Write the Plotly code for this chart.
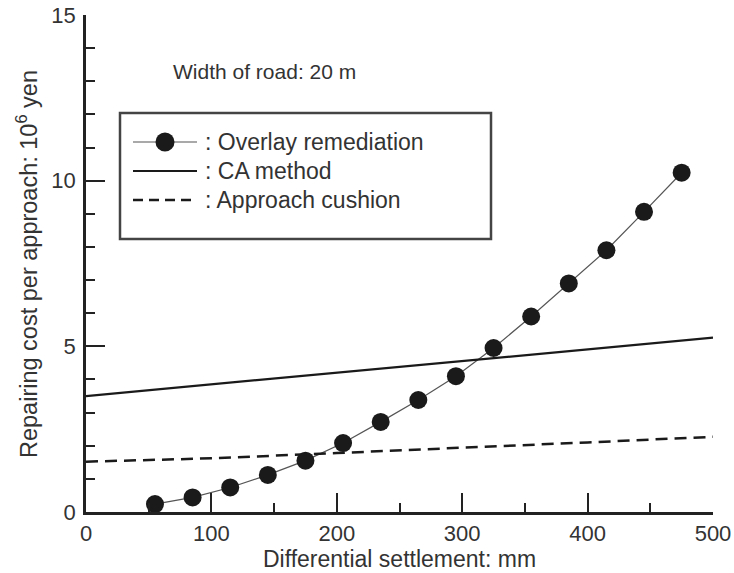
import plotly.graph_objects as go

# Data
overlay_x = [55, 85, 115, 145, 175, 205, 235, 265, 295, 325, 355, 385, 415, 445, 475]
overlay_y = [0.24, 0.44, 0.74, 1.12, 1.55, 2.08, 2.72, 3.38, 4.1, 4.95, 5.9, 6.9, 7.9, 9.06, 10.24]
ca_x = [0, 500]
ca_y = [3.5, 5.26]
cushion_x = [0, 100, 200, 300, 400, 500]
cushion_y = [1.52, 1.62, 1.78, 1.93, 2.1, 2.27]
legend_names = [": Overlay remediation", ": CA method", ": Approach cushion"]

FONT = "Liberation Sans, Arial, sans-serif"
INK = "#222222"
TXT = "#333333"

# figure geometry (pixels)
W, H = 734, 573
ML, MR, MT, MB = 86, 21, 15, 61
PW, PH = W - ML - MR, H - MT - MB


def px(p):
    return (p - ML) / PW


def py(p):
    return (H - MB - p) / PH


fig = go.Figure()
fig.add_trace(go.Scatter(
    x=overlay_x, y=overlay_y, mode="lines+markers", name=legend_names[0],
    line=dict(color="#555555", width=1.2),
    marker=dict(size=18, color="#1a1a1a", line=dict(width=0)),
))
fig.add_trace(go.Scatter(
    x=ca_x, y=ca_y, mode="lines", name=legend_names[1],
    line=dict(color="#1a1a1a", width=2.2),
))
fig.add_trace(go.Scatter(
    x=cushion_x, y=cushion_y, mode="lines", name=legend_names[2],
    line=dict(color="#1a1a1a", width=2.5, dash="12px,7px"),
))

axis_common = dict(
    showline=True, linecolor=INK, linewidth=2.5, mirror=False,
    ticks="inside", ticklen=19, tickwidth=2, tickcolor=INK,
    showgrid=False, zeroline=False, automargin=False,
    tickfont=dict(family=FONT, size=22, color=TXT),
)

fig.update_xaxes(
    range=[0, 500], tickvals=[0, 100, 200, 300, 400, 500],
    minor=dict(ticks="inside", ticklen=9, tickwidth=2, tickcolor=INK, dtick=50, showgrid=False),
    title=dict(text="Differential settlement: mm", font=dict(family=FONT, size=23, color=TXT), standoff=1),
    **axis_common,
)
fig.update_yaxes(
    range=[0, 15], tickvals=[0, 5, 10, 15], ticklabelstandoff=3,
    minor=dict(ticks="inside", ticklen=9, tickwidth=2, tickcolor=INK, dtick=1, showgrid=False),
    **axis_common,
)

# y-axis title (rotated annotation to match reference position)
fig.add_annotation(
    x=px(27), y=py(264), xref="paper", yref="paper", xanchor="center", yanchor="middle",
    text="Repairing cost per approach: 10<sup>6</sup> yen", textangle=-90,
    showarrow=False, font=dict(family=FONT, size=23.5, color=TXT),
)

fig.add_annotation(
    x=142, y=13.3, xref="x", yref="y", text="Width of road: 20 m", showarrow=False,
    font=dict(family=FONT, size=21, color=TXT),
)

# custom legend box (drawn to match reference layout)
shapes = [dict(type="rect", xref="paper", yref="paper",
               x0=px(120), x1=px(491), y0=py(239), y1=py(113),
               line=dict(color="#444444", width=2.5), fillcolor="white", layer="above")]
rows = [142, 171, 200]
styles = [dict(color="#555555", width=1.2), dict(color="#1a1a1a", width=2.2),
          dict(color="#1a1a1a", width=2.5, dash="10px,6px")]
for r, st in zip(rows, styles):
    shapes.append(dict(type="line", xref="paper", yref="paper",
                       x0=px(133), x1=px(197), y0=py(r), y1=py(r), line=st, layer="above"))
shapes.append(dict(type="circle", xref="paper", yref="paper",
                   x0=px(165 - 9.5), x1=px(165 + 9.5), y0=py(rows[0] + 9.5), y1=py(rows[0] - 9.5),
                   fillcolor="#1a1a1a", line=dict(width=0), layer="above"))
for r, name in zip(rows, legend_names):
    fig.add_annotation(x=px(203), y=py(r), xref="paper", yref="paper", text=name,
                       showarrow=False, xanchor="left", yanchor="middle",
                       font=dict(family=FONT, size=23, color=TXT))

fig.update_layout(
    width=W, height=H,
    margin=dict(l=ML, r=MR, t=MT, b=MB),
    plot_bgcolor="white", paper_bgcolor="white",
    showlegend=False,
    shapes=shapes,
)

fig.write_html("out.html")
